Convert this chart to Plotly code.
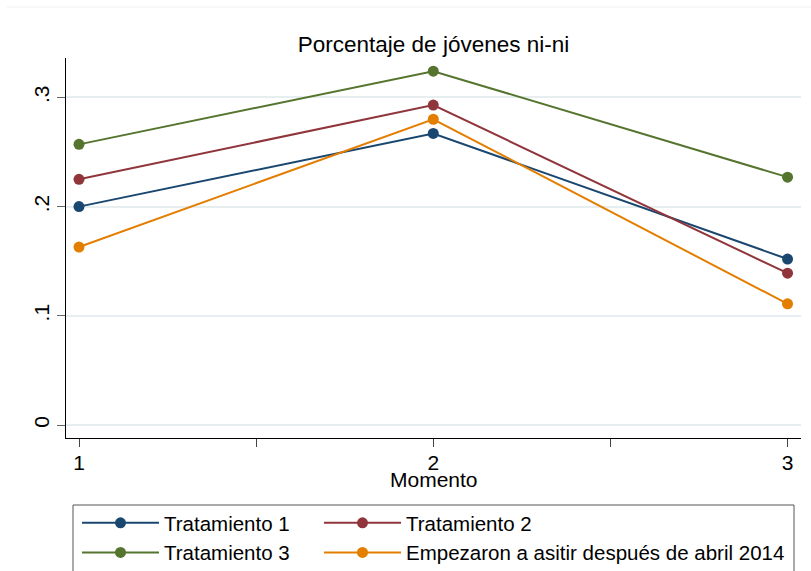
import plotly.graph_objects as go

# ---- data ----
momento = [1, 2, 3]
series_names = ["Tratamiento 1", "Tratamiento 2", "Tratamiento 3",
                "Empezaron a asitir después de abril 2014"]
trat1 = [0.200, 0.267, 0.152]
trat2 = [0.225, 0.293, 0.139]
trat3 = [0.257, 0.324, 0.227]
empezaron = [0.163, 0.280, 0.111]
y_tick_vals = [0, 0.1, 0.2, 0.3]
y_tick_text = ["0", ".1", ".2", ".3"]
x_tick_vals = [1, 1.5, 2, 2.5, 3]
x_tick_text = ["1", "", "2", "", "3"]
x_title = "Momento"

colors = ["#1a476f", "#90353b", "#55752f", "#e37e00"]
groups = ["a", "b", "a", "b"]
legend_widths = [150, None, 150, None]
FONT = "Liberation Sans, Arial, sans-serif"

W, H = 811, 571
L, R, T, B = 66, 10, 58, 133
PW = W - L - R
PH = H - T - B

def px_x(p):
    return (p - L) / PW

def px_y(p):
    return (H - B - p) / PH

fig = go.Figure()
for name, vals, col, grp, lw in zip(series_names, [trat1, trat2, trat3, empezaron],
                                    colors, groups, legend_widths):
    tr = go.Scatter(
        x=momento, y=vals, name=name, mode="lines+markers",
        legendgroup=grp,
        line=dict(color=col, width=2),
        marker=dict(color=col, size=11),
    )
    if lw is not None:
        tr.legendwidth = lw
    fig.add_trace(tr)

fig.update_layout(
    width=W, height=H,
    margin=dict(l=L, r=R, t=T, b=B, autoexpand=False),
    paper_bgcolor="white", plot_bgcolor="white",
    font=dict(family=FONT, size=21, color="black"),
    title=dict(text="Porcentaje de jóvenes ni-ni", x=(L + PW / 2) / W, xanchor="center",
               y=1 - 44.5 / H, yanchor="middle", font=dict(size=22.5, color="black")),
    xaxis=dict(range=[0.9633, 3.038], tickvals=x_tick_vals, ticktext=x_tick_text,
               showgrid=False, zeroline=False, showline=True, linecolor="black", linewidth=1,
               ticks="outside", ticklen=8, tickcolor="#444", tickfont=dict(size=21),
               ticklabelstandoff=-2),
    yaxis=dict(range=[-0.0119, 0.3361], tickvals=y_tick_vals, ticktext=y_tick_text,
               tickangle=-90, showgrid=True, gridcolor="#e6eef0", gridwidth=1.5,
               zeroline=False, showline=True, linecolor="black", linewidth=1,
               ticks="outside", ticklen=8, tickcolor="#666", tickfont=dict(size=21)),
    legend=dict(orientation="h", x=px_x(77), xanchor="left", y=px_y(503), yanchor="top",
                borderwidth=0, bgcolor="rgba(0,0,0,0)", itemwidth=77,
                tracegroupgap=0, font=dict(size=20.5, color="black")),
    annotations=[
        dict(text=x_title, xref="paper", yref="paper", x=0.5, xanchor="center",
             y=px_y(480), yanchor="middle", showarrow=False,
             font=dict(size=21, color="black")),
    ],
    shapes=[
        dict(type="rect", xref="paper", yref="paper",
             x0=px_x(73), x1=px_x(794), y0=px_y(505), y1=px_y(580),
             line=dict(color="#555", width=1), fillcolor="rgba(0,0,0,0)", layer="below"),
        dict(type="line", xref="paper", yref="paper",
             x0=px_x(7), x1=px_x(811), y0=px_y(7), y1=px_y(7),
             line=dict(color="#eef2f2", width=1)),
    ],
    showlegend=True,
)

fig.write_html("out.html", config={"displayModeBar": False},
               post_script="document.body.style.margin='0';document.body.style.padding='0';")
